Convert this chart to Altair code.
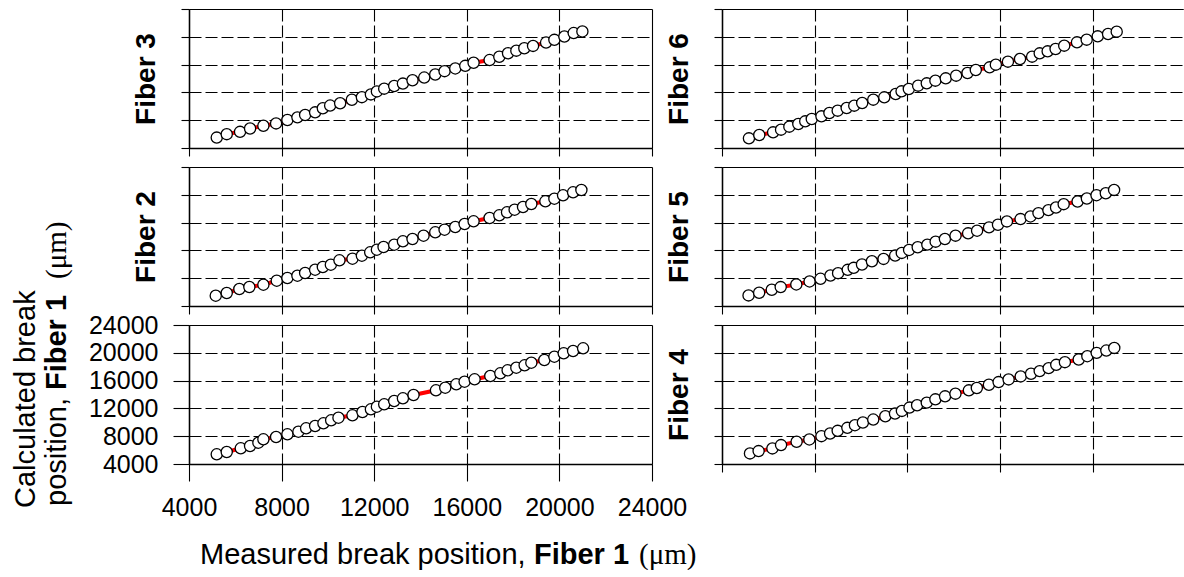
import altair as alt
import pandas as pd

FONT = "Liberation Sans, Arial, sans-serif"
SERIF = "Liberation Serif, Times New Roman, serif"

# ---------------- data ----------------
X3 = [5198, 5630, 6205, 6638, 7213, 7762, 8251, 8683, 9016, 9448, 9781, 10097, 10529, 11035, 11468, 11857, 12116, 12432, 12864, 13240,
      13655, 14161, 14637, 15039, 15502, 15934, 16293, 16985, 17404, 17781, 18140, 18485, 18862, 19424, 19783, 20215, 20617, 20993]
Y3 = [5498, 5993, 6327, 6807, 7200, 7535, 8029, 8407, 8756, 9134, 9716, 10109, 10443, 10938, 11316, 11709, 12145, 12538, 12916, 13265,
      13745, 14138, 14574, 15054, 15447, 15825, 16262, 16654, 17134, 17629, 18007, 18356, 18690, 19171, 19563, 20043, 20538, 20771]

X2 = [5155, 5630, 6175, 6607, 7213, 7790, 8250, 8683, 9016, 9448, 9781, 10127, 10499, 11062, 11468, 11827, 12116, 12404, 12864, 13240,
      13655, 14131, 14637, 15039, 15502, 15905, 16293, 16985, 17404, 17737, 18066, 18429, 18788, 19394, 19783, 20158, 20591, 20950]
Y2 = [5482, 5870, 6446, 6734, 7065, 7640, 8029, 8360, 8748, 9223, 9611, 9942, 10575, 10806, 11237, 11726, 12100, 12489, 12820, 13309,
      13640, 14115, 14604, 14978, 15367, 15798, 16187, 16661, 17050, 17482, 17856, 18244, 18676, 19064, 19438, 19928, 20359, 20690]

X1 = [5198, 5630, 6236, 6638, 6997, 7213, 7762, 8251, 8726, 9059, 9448, 9807, 10140, 10456, 11061, 11494, 11857, 12116, 12432, 12864,
      13240, 13699, 14668, 15069, 15545, 15904, 16337, 17015, 17448, 17763, 18139, 18498, 18788, 19350, 19783, 20185, 20591, 21024]
Y1 = [5396, 5727, 6259, 6590, 7065, 7554, 7885, 8273, 8647, 9137, 9467, 9856, 10288, 10662, 11007, 11482, 11870, 12244, 12590, 13064,
      13453, 13928, 14604, 14978, 15467, 15841, 16187, 16661, 17050, 17482, 17856, 18201, 18575, 18964, 19438, 19928, 20259, 20647]

X6 = [5163, 5610, 6207, 6550, 6908, 7295, 7594, 7877, 8295, 8638, 8995, 9383, 9711, 10054, 10531, 11008, 11500, 11754, 12067, 12470,
      12842, 13215, 13662, 14110, 14602, 14960, 15556, 15825, 16347, 16869, 17391, 17719, 18062, 18405, 18778, 19329, 19747, 20224, 20671, 21044]
Y6 = [5391, 5871, 6254, 6638, 7070, 7453, 7837, 8173, 8556, 9036, 9372, 9755, 10091, 10475, 10954, 11290, 11770, 12153, 12489, 12969,
      13305, 13688, 14024, 14408, 14791, 15223, 15607, 15990, 16422, 16806, 17142, 17621, 17909, 18245, 18724, 19204, 19588, 20067, 20403, 20739]

X5 = [5146, 5604, 6149, 6535, 7209, 7782, 8254, 8684, 9013, 9429, 9687, 10045, 10474, 10976, 11477, 11764, 12079, 12451, 12867, 13225,
      13626, 14084, 14628, 15015, 15531, 15918, 16304, 16892, 17321, 17665, 18095, 18424, 18754, 19355, 19756, 20172, 20573, 20931]
Y5 = [5527, 5909, 6339, 6721, 7102, 7532, 7914, 8391, 8725, 9203, 9489, 9966, 10444, 10778, 11255, 11637, 12066, 12448, 12830, 13260,
      13641, 14119, 14453, 14835, 15312, 15694, 16171, 16505, 16887, 17364, 17794, 18176, 18653, 19035, 19465, 19942, 20228, 20706]

X4 = [5208, 5581, 6177, 6550, 7221, 7772, 8294, 8667, 8995, 9413, 9741, 10084, 10531, 11053, 11470, 11769, 12097, 12425, 12842, 13215,
      13633, 14080, 14661, 15004, 15526, 15944, 16376, 16898, 17345, 17718, 18106, 18434, 18807, 19403, 19776, 20178, 20596, 20939]
Y4 = [5527, 5861, 6243, 6721, 7198, 7532, 8009, 8391, 8773, 9203, 9584, 9966, 10396, 10873, 11255, 11637, 12114, 12448, 12830, 13307,
      13737, 14119, 14596, 14930, 15407, 15789, 16171, 16601, 16983, 17364, 17794, 18271, 18653, 19035, 19512, 19990, 20324, 20706]

TICKS_FULL = [4000, 8000, 12000, 16000, 20000, 24000]
TICKS_RIGHT = [4000, 8000, 12000, 16000, 20000]

Y_TITLE_1 = "Calculated break"
Y_TITLE_2 = ["position,", "Fiber 1", "(\u03bcm)"]
X_TITLE = ["Measured break position,", "Fiber 1", "(\u03bcm)"]

DASH = {"condition": {"test": "datum.value == 4000 || datum.value == 24000", "value": [1, 0]},
        "value": [12, 4]}


def txt(s, x, y, font=FONT, weight="normal", angle=0, size=29):
    return alt.Chart(pd.DataFrame({"t": [s]})).mark_text(
        font=font, fontSize=size, fontWeight=weight, angle=angle, align="left",
        baseline="alphabetic", color="black"
    ).encode(text="t:N", x=alt.value(x), y=alt.value(y))


def panel(name, xs, ys, left, bottom):
    df = pd.DataFrame({"x": xs, "y": ys})
    lab = left and bottom
    xdom = [4000, 24000] if left else [4000, 23950]
    xaxis = alt.Axis(
        values=TICKS_FULL if left else TICKS_RIGHT, grid=True, gridDash=DASH, gridColor="black",
        gridWidth=1.1, gridOpacity=1, labels=lab, labelFont=FONT, labelFontSize=25, labelColor="black",
        labelPadding=14, labelFlush=False, labelOverlap=False, format="d",
        tickSize=17 if lab else 8, tickColor="black", tickWidth=1.1,
        domainColor="black", domainWidth=1.5, title=None,
    )
    yaxis = alt.Axis(
        values=TICKS_FULL, grid=True, gridDash=DASH, gridColor="black", gridWidth=1.1, gridOpacity=1,
        labels=lab, labelFont=FONT, labelFontSize=25, labelColor="black", labelPadding=15,
        labelFlush=False, labelOverlap=False, format="d",
        tickSize=16 if lab else 8, tickColor="black", tickWidth=1.1,
        domainColor="black", domainWidth=1.5,
        title=None if lab else name, titleFont=FONT, titleFontSize=28, titleFontWeight="bold",
        titleColor="black", titlePadding=20,
    )
    base = alt.Chart(df).encode(
        x=alt.X("x:Q", scale=alt.Scale(domain=xdom, nice=False, zero=False), axis=xaxis),
        y=alt.Y("y:Q", scale=alt.Scale(domain=[4000, 24000], nice=False, zero=False), axis=yaxis),
    )
    line = base.mark_line(color="#ff0000", strokeWidth=4)
    pts = base.mark_circle(size=125, fill="white", stroke="black", strokeWidth=1.3, opacity=1)
    layers = [line, pts]
    if lab:
        layers += [
            txt(Y_TITLE_1, -154, 183, angle=270),
            txt(Y_TITLE_2[0], -123, 181, angle=270),
            txt(Y_TITLE_2[1], -123, 65, weight="bold", angle=270),
            txt(Y_TITLE_2[2], -123, -46, font=SERIF, angle=270),
            txt(X_TITLE[0], 11, 239),
            txt(X_TITLE[1], 345, 239, weight="bold"),
            txt(X_TITLE[2], 450, 239, font=SERIF),
        ]
    return alt.layer(*layers).properties(width=463 if left else 462, height=139)


chart = alt.concat(
    panel("Fiber 3", X3, Y3, True, False),
    panel("Fiber 6", X6, Y6, False, False),
    panel("Fiber 2", X2, Y2, True, False),
    panel("Fiber 5", X5, Y5, False, False),
    panel("Fiber 1", X1, Y1, True, True),
    panel("Fiber 4", X4, Y4, False, True),
    columns=2, spacing={"row": 19, "column": 70}, bounds="flush",
).properties(
    padding={"left": 12, "top": 8, "right": 0, "bottom": 0}
).configure(background="white").configure_view(stroke=None)

chart.save("out.html", embed_options={"renderer": "svg", "actions": False})
